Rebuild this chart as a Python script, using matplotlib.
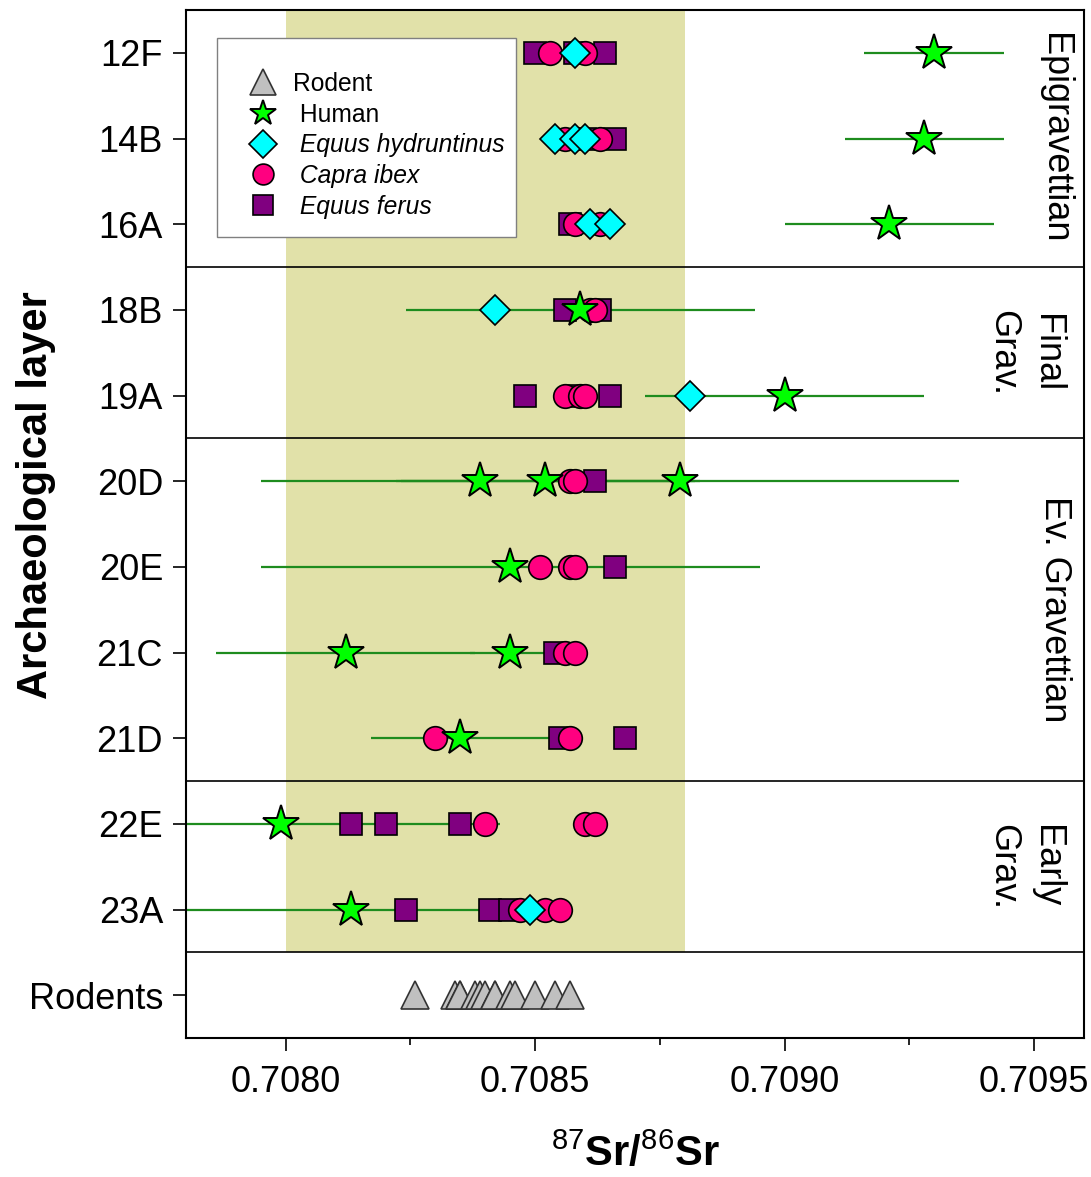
import matplotlib
matplotlib.use("Agg")
import matplotlib.pyplot as plt
from matplotlib.patches import Rectangle
from matplotlib.ticker import MultipleLocator
import matplotlib.transforms as mtransforms

plt.rcParams['font.family'] = ['Liberation Sans', 'DejaVu Sans']
plt.rcParams['mathtext.fontset'] = 'custom'
plt.rcParams['mathtext.rm'] = 'Liberation Sans'
plt.rcParams['mathtext.bf'] = 'Liberation Sans:bold'

# ---------------- data ----------------
layers = ["12F", "14B", "16A", "18B", "19A", "20D", "20E", "21C", "21D", "22E", "23A", "Rodents"]

groups = ["Epigravettian", "Final\nGrav.", "Ev. Gravettian", "Early\nGrav."]
group_first = ["12F", "18B", "20D", "22E"]
group_last = ["16A", "19A", "21D", "23A"]

local_range = [0.7080, 0.7088]

ferus_layer = ["12F", "12F", "12F", "14B", "14B", "16A", "18B", "18B", "19A", "19A", "19A",
               "20D", "20E", "21C", "21D", "21D", "22E", "22E", "22E", "23A", "23A", "23A"]
ferus_sr = [0.70850, 0.70858, 0.70864, 0.70860, 0.70866, 0.70857, 0.70856, 0.70863, 0.70848, 0.70858, 0.70865,
            0.70862, 0.70866, 0.70854, 0.70855, 0.70868, 0.70813, 0.70820, 0.70835, 0.70824, 0.70841, 0.70845]

ibex_layer = ["12F", "12F", "14B", "14B", "16A", "16A", "18B", "18B", "19A", "19A", "19A",
              "20D", "20D", "20E", "20E", "20E", "21C", "21C", "21D", "21D", "22E", "22E", "22E",
              "23A", "23A", "23A"]
ibex_sr = [0.70853, 0.70860, 0.70856, 0.70863, 0.70858, 0.70863, 0.70861, 0.70862, 0.70856, 0.70859, 0.70860,
           0.70857, 0.70858, 0.70851, 0.70857, 0.70858, 0.70856, 0.70858, 0.70830, 0.70857, 0.70840, 0.70860, 0.70862,
           0.70847, 0.70852, 0.70855]

hydr_layer = ["12F", "14B", "14B", "14B", "16A", "16A", "18B", "19A", "23A"]
hydr_sr = [0.70858, 0.70854, 0.70858, 0.70860, 0.70861, 0.70865, 0.70842, 0.70881, 0.70849]

human_layer = ["12F", "14B", "16A", "18B", "19A", "20D", "20D", "20D", "20E", "21C", "21C", "21D", "22E", "23A"]
human_sr = [0.70930, 0.70928, 0.70921, 0.70859, 0.70900, 0.70839, 0.70852, 0.70879, 0.70845,
            0.70812, 0.70845, 0.70835, 0.70799, 0.70813]
human_err = [0.00014, 0.00016, 0.00021, 0.00035, 0.00028, 0.00044, 0.00030, 0.00056, 0.00050,
             0.00026, 0.00008, 0.00018, 0.00044, 0.00036]

rodent_sr = [0.70826, 0.70834, 0.70835, 0.70835, 0.70838, 0.70839, 0.70840, 0.70842, 0.70842,
             0.70845, 0.70846, 0.70850, 0.70854, 0.70857]

xticks = [0.7080, 0.7085, 0.7090, 0.7095]

# ---------------- figure ----------------
W, H = 1091, 1177
fig = plt.figure(figsize=(W / 100, H / 100), dpi=100)
ax_l, ax_r, ax_t, ax_b = 186, 1084, 10, 1038
ax = fig.add_axes([ax_l / W, 1 - ax_b / H, (ax_r - ax_l) / W, (ax_b - ax_t) / H])

pos = {name: i for i, name in enumerate(layers)}

ax.set_xlim(0.7078, 0.7096)
ax.set_ylim(len(layers) - 0.5, -0.5)

# local range band (not in rodent row)
ax.fill_betweenx([-0.5, pos["Rodents"] - 0.5], local_range[0], local_range[1],
                 color='#E1E1A9', lw=0, zorder=0)

# group separators
for last in group_last:
    ax.axhline(pos[last] + 0.5, color='black', lw=1.2, zorder=1)

edge = 'black'
ax.errorbar(human_sr, [pos[l] for l in human_layer], xerr=human_err, fmt='none',
            ecolor='#1E8C1E', elinewidth=1.6, capsize=0, zorder=2)

ax.plot(rodent_sr, [pos["Rodents"]] * len(rodent_sr), ls='none', marker='^', ms=20,
        mfc='#C0C0C0', mec='#333333', mew=1.2, zorder=3, label='Rodent')
ax.plot(ferus_sr, [pos[l] for l in ferus_layer], ls='none', marker='s', ms=15.5,
        mfc='#800080', mec=edge, mew=1.2, zorder=3, label=' Equus ferus')
ax.plot(ibex_sr, [pos[l] for l in ibex_layer], ls='none', marker='o', ms=17,
        mfc='#FF0080', mec=edge, mew=1.2, zorder=4, label=' Capra ibex')
ax.plot(hydr_sr, [pos[l] for l in hydr_layer], ls='none', marker='D', ms=14.8,
        mfc='#00FFFF', mec=edge, mew=1.2, zorder=5, label=' Equus hydruntinus')
ax.plot(human_sr, [pos[l] for l in human_layer], ls='none', marker='*', ms=27.5,
        mfc='#00FF00', mec=edge, mew=1.4, zorder=6, label=' Human')

# axes styling
for sp in ax.spines.values():
    sp.set_linewidth(1.5)
ax.set_yticks(range(len(layers)))
ax.set_yticklabels(layers)
ax.set_xticks(xticks)
ax.set_xticklabels([f"{v:.4f}" for v in xticks])
ax.xaxis.set_minor_locator(MultipleLocator(0.00025))
ax.tick_params(axis='y', which='major', direction='out', length=9.5, width=1.2,
               labelsize=26, pad=7, right=False)
ax.tick_params(axis='x', which='major', direction='out', length=9.5, width=1.2,
               labelsize=26, pad=10, top=False)
ax.tick_params(axis='x', which='minor', direction='out', length=5, width=1.2, top=False)

ax.set_ylabel('Archaeological layer', fontsize=30, fontweight='bold')
ax.yaxis.set_label_coords(-0.145, 0.528)
ax.set_xlabel(r'$^{87}\mathbf{Sr/}^{86}\mathbf{Sr}$', fontsize=30)
ax.xaxis.set_label_coords(0.5, -0.093)

# group labels on the right
trans = mtransforms.blended_transform_factory(ax.transAxes, ax.transData)
for name, a, b in zip(groups, group_first, group_last):
    xf = 0.934 if "\n" in name else 0.967
    ax.text(xf, (pos[a] + pos[b]) / 2, name, transform=trans, rotation=270,
            ha='center', va='center', fontsize=26, multialignment='center',
            linespacing=1.35, zorder=7)

# legend
frame = Rectangle((31 / 898, 1 - 227 / 1028), 299 / 898, 199 / 1028, transform=ax.transAxes,
                  facecolor='white', edgecolor='#808080', lw=1.0, zorder=8)
ax.add_patch(frame)
handles, labels = ax.get_legend_handles_labels()
order = ['Rodent', ' Human', ' Equus hydruntinus', ' Capra ibex', ' Equus ferus']
hmap = dict(zip(labels, handles))
leg = ax.legend([hmap[o] for o in order], order, loc='upper left',
                bbox_to_anchor=(0.0587, 0.9397), frameon=False, fontsize=17.7,
                handlelength=2.0, handletextpad=0.19, labelspacing=0.27, borderpad=0,
                borderaxespad=0, numpoints=1)
leg.set_zorder(9)
for i, t in enumerate(leg.get_texts()):
    if i >= 2:
        t.set_fontstyle('italic')
leg_ms = [19, 19, 14, 15, 14]
for h, m in zip(leg.legend_handles, leg_ms):
    h.set_markersize(m)

fig.savefig('out.png', dpi=100)
